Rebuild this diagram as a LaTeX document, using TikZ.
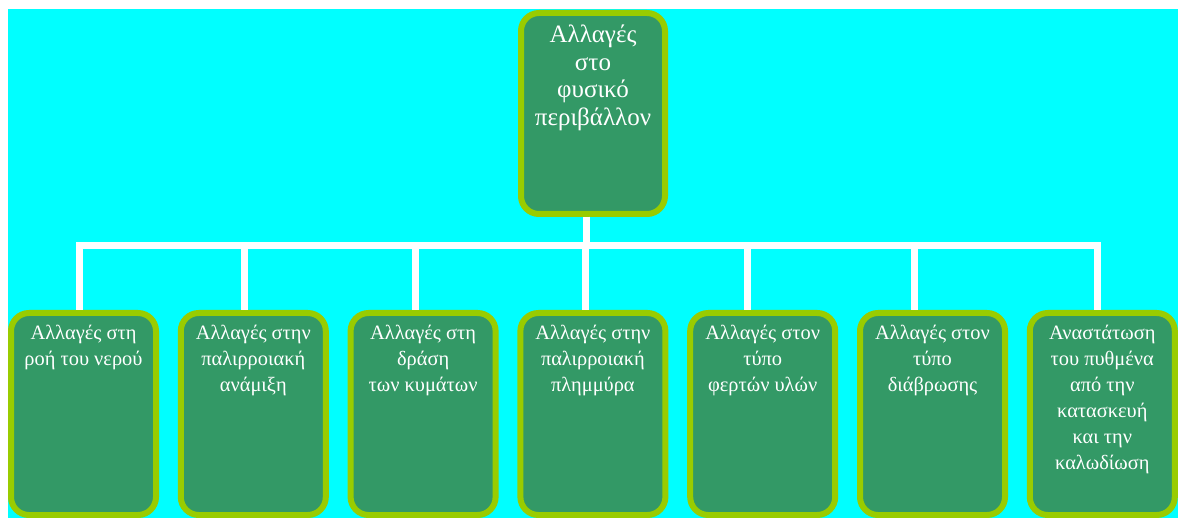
\documentclass[tikz,border=0pt]{standalone}
\usepackage{fontspec}
\setmainfont{Liberation Serif}
\definecolor{seagreen}{HTML}{339966}
\definecolor{limegreen}{HTML}{99CC00}
\definecolor{aqua}{HTML}{00FFFF}
\tikzset{
  topicbox/.style={draw=limegreen, fill=seagreen, line width=3pt, rounded corners=9pt,
    text=white, inner xsep=3pt, inner ysep=6pt, anchor=north},
  rootbox/.style={topicbox,
    execute at begin node={\begin{minipage}[c][88.5pt][t]{66pt}\centering\fontsize{12.5}{13.8}\selectfont},
    execute at end node={\end{minipage}}},
  leafbox/.style={topicbox,
    execute at begin node={\begin{minipage}[c][89pt][t]{66.5pt}\centering\fontsize{10.2}{13}\selectfont},
    execute at end node={\end{minipage}}},
  link/.style={draw=white, line width=3.5pt}
}
\begin{document}
\begin{tikzpicture}[x=0.5pt,y=-0.5pt]
          \useasboundingbox (0,0) rectangle (1178,518);
          \fill[white] (0,0) rectangle (1178,518);
          \fill[aqua] (8,9) rectangle (1178,518);
          % vertices
          \node[rootbox] (root) at (593,10) {Αλλαγές\\στο\\φυσικό\\περιβάλλον};
          \node[leafbox] (b1) at (83.5,310) {Αλλαγές στη\\ροή του νερού};
          \node[leafbox] (b2) at (253.3,310) {Αλλαγές στην\\παλιρροιακή\\ανάμιξη};
          \node[leafbox] (b3) at (423.1,310) {Αλλαγές στη\\δράση\\των κυμάτων};
          \node[leafbox] (b4) at (592.9,310) {Αλλαγές στην\\παλιρροιακή\\πλημμύρα};
          \node[leafbox] (b5) at (762.7,310) {Αλλαγές στον\\τύπο\\φερτών υλών};
          \node[leafbox] (b6) at (932.5,310) {Αλλαγές στον\\τύπο\\διάβρωσης};
          \node[leafbox] (b7) at (1102.3,310) {Αναστάτωση\\του πυθμένα\\από την\\κατασκευή\\και την\\καλωδίωση};
          % edges
          \foreach \n/\dx in {b1/-4.5,b2/-9,b3/-8,b4/-7,b5/-15,b6/-18,b7/-5}
            \draw[link] ([xshift=-3.5pt]root.south) -- ++(0,29) -| ([xshift=\dx*0.5pt]\n.north);
        \end{tikzpicture}
\end{document}
